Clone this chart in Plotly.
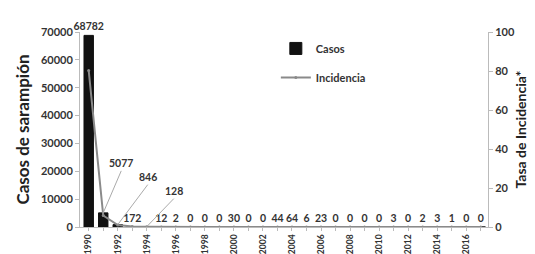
import plotly.graph_objects as go

years = list(range(1990, 2018))
casos = [68782, 5077, 846, 172, 128, 12, 2, 0, 0, 0, 30, 0, 0, 44, 64, 6, 23,
         0, 0, 0, 0, 3, 0, 2, 3, 1, 0, 0]
incidencia = [80.2, 5.9, 1.0, 0.2, 0.14, 0.01, 0.0, 0.0, 0.0, 0.0, 0.03, 0.0, 0.0,
              0.04, 0.06, 0.01, 0.02, 0.0, 0.0, 0.0, 0.0, 0.0, 0.0, 0.0, 0.0, 0.0, 0.0, 0.0]
tick_years = list(range(1990, 2017, 2))
callout_years = {1991: (18, -42), 1992: (30, -40), 1994: (27, -28)}

FONT = "Lato"
TXT = "#333333"

bar_text = ["" if y in callout_years else str(v) for y, v in zip(years, casos)]

fig = go.Figure()
fig.add_trace(go.Bar(
    x=years, y=casos, name="Casos", legendgroup="a",
    marker=dict(color="#111111", line=dict(color="#111111", width=1)),
    width=0.65,
    text=bar_text, textposition="outside", cliponaxis=False,
    constraintext="none",
    textfont=dict(family=FONT, size=10.5, color=TXT, weight="bold"),
))
fig.add_trace(go.Scatter(
    x=years, y=incidencia, name="Incidencia", yaxis="y2", legendgroup="b",
    mode="lines+markers",
    line=dict(color="#8a8a8a", width=2),
    marker=dict(symbol="circle", size=3, color="#8a8a8a"),
))

for y, v in zip(years, casos):
    if y in callout_years:
        ax, ay = callout_years[y]
        fig.add_annotation(
            x=y, y=v, xref="x", yref="y", text=str(v),
            showarrow=True, arrowhead=0, arrowwidth=1, arrowcolor="#aaaaaa",
            ax=ax, ay=ay, xanchor="center", yanchor="bottom",
            font=dict(family=FONT, size=10.5, color=TXT, weight="bold"),
        )

fig.update_layout(
    width=535, height=254,
    margin=dict(l=72, r=55, t=24, b=35),
    plot_bgcolor="white", paper_bgcolor="white",
    bargap=0.3,
    showlegend=True,
    legend=dict(x=0.48, y=0.99, xanchor="left", yanchor="top",
                font=dict(family=FONT, size=11, color=TXT, weight="bold"),
                bgcolor="rgba(0,0,0,0)", tracegroupgap=10, itemwidth=30),
    xaxis=dict(
        range=[1989.4, 2017.5], tickmode="array", tickvals=tick_years,
        ticktext=[str(t) for t in tick_years], tickangle=-90,
        tickfont=dict(family=FONT, size=8.5, color=TXT, weight="bold"),
        showgrid=False, showline=True, linecolor="#bbbbbb", linewidth=1,
        ticks="outside", ticklen=3, tickcolor="#bbbbbb",
        minor=dict(dtick=1, ticks="outside", ticklen=3, tickcolor="#bbbbbb"),
        automargin=False, zeroline=False,
    ),
    yaxis=dict(
        range=[0, 70000], dtick=10000, tickformat="d", showgrid=False,
        showline=True, linecolor="#bbbbbb", ticks="outside", ticklen=4, tickcolor="#bbbbbb",
        tickfont=dict(family=FONT, size=11, color=TXT, weight="bold"),
        title=dict(text="Casos de sarampión", standoff=6,
                   font=dict(family=FONT, size=17, color="#222222", weight="bold")),
        automargin=False, zeroline=False,
    ),
    yaxis2=dict(
        range=[0, 100], dtick=20, overlaying="y", side="right", showgrid=False,
        showline=True, linecolor="#bbbbbb", ticks="outside", ticklen=4, tickcolor="#bbbbbb",
        tickfont=dict(family=FONT, size=11, color=TXT, weight="bold"),
        title=dict(text="Tasa de Incidencia*", standoff=2,
                   font=dict(family=FONT, size=14, color="#222222", weight="bold")),
        automargin=False, zeroline=False,
    ),
)

fig.write_html("out.html")
